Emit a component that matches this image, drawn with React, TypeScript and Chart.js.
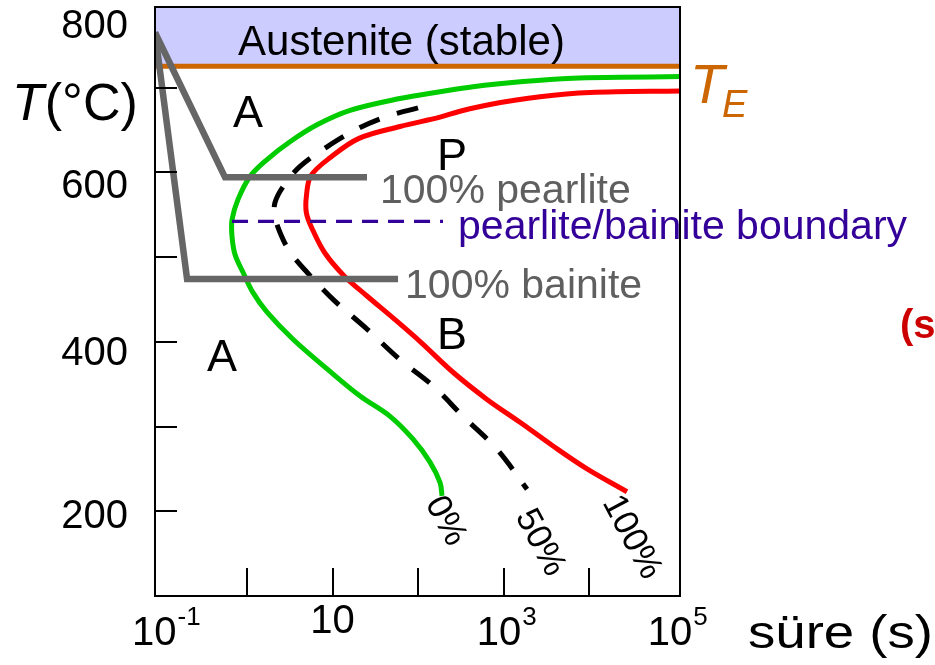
import React, { useEffect, useRef } from "react";
import { Chart, registerables } from "chart.js";

Chart.register(...registerables);

// ---- axis ranges ----
const X_MIN = 0.0839;
const X_MAX = 115900;
const Y_MIN = 100;
const Y_MAX = 795;
const EUTECTOID_TEMP = 725;

// ---- 0% transformation (start) curve ----
const startTimes = [120000, 23070, 6501, 1690, 439.5, 180.7, 61.5, 16.03, 6.59, 3.18, 1.714, 1.084, 0.785, 0.668, 0.668, 0.724, 0.897, 1.175, 1.714, 3.45, 8.63, 20.99, 47.1, 87.5, 138, 180.7, 191];
const startTemps = [713, 712, 711, 707, 701, 695, 687, 673, 656, 636, 615, 595, 568, 544, 524, 503, 482, 458, 435, 403, 368, 336, 312, 285, 258, 234, 218];

// ---- 50% transformation curve ----
const halfTimes = [100, 43.4, 19.4, 8.63, 4.17, 2.64, 2.12, 2.12, 2.43, 3.18, 5.03, 10.14, 25.3, 61.5, 149.7, 336, 839, 1884];
const halfTemps = [676, 666, 651, 630, 607, 583, 564, 548, 529, 506, 482, 450, 415, 379, 348, 312, 273, 226];

// ---- 100% transformation (finish) curve ----
const finishTimes = [120000, 10280, 2673, 695, 309.7, 180.7, 61.5, 20.4, 9.6, 5.6, 4.95, 4.95, 5.8, 8.1, 13.6, 25.3, 52.5, 109, 256.6, 641, 1560, 3793, 9480, 27800];
const finishTemps = [696, 694, 689, 680, 672, 665, 654, 640, 618, 596, 572, 552, 533, 505, 478, 454, 427, 399, 364, 332, 305, 277, 250, 223];

// ---- cooling paths ----
const pearlitePathTimes = [X_MIN, 0.553, 25.3];
const pearlitePathTemps = [765, 594, 594];
const bainitePathTimes = [X_MIN, 0.199, 58.4];
const bainitePathTemps = [765, 474, 474];

// ---- pearlite / bainite boundary ----
const boundaryTimes = [0.668, 196];
const boundaryTemps = [542, 542];

// ---- ticks ----
const yTickValues = [200, 300, 400, 500, 600, 700];
const yLabelValues = [200, 400, 600, 800];
const yLabelNudge = [17, 23, 26, 35];
const xTickValues = [1, 10, 100, 1000, 10000];
const xLabelValues = [0.1, 10, 1000, 100000];
const xLabelExponents = ["-1", "", "3", "5"];

const FONT = "'Liberation Sans', Arial, Helvetica, sans-serif";
const font = (size: number, style = "", weight = "") =>
  [style, weight, `${size}px`, FONT].filter(Boolean).join(" ");

const zip = (xs: number[], ys: number[]) => xs.map((x, i) => ({ x, y: ys[i] }));

const plotNotes = [
  { text: "Austenite (stable)", t: 0.785, T: 738, size: 42, color: "#000000" },
  { text: "A", t: 0.686, T: 653, size: 45, color: "#000000" },
  { text: "A", t: 0.34, T: 365, size: 45, color: "#000000" },
  { text: "P", t: 166.8, T: 603, size: 45, color: "#000000" },
  { text: "B", t: 166.8, T: 391, size: 45, color: "#000000" },
  { text: "100% pearlite", t: 35.9, T: 564, size: 41, color: "#5f5f5f" },
  { text: "pearlite/bainite boundary", t: 293.8, T: 521, size: 41, color: "#330099" },
  { text: "100% bainite", t: 70.5, T: 452, size: 41, color: "#5f5f5f" },
];

const curveTags = [
  { text: "0%", t: 151.8, T: 214.7 },
  { text: "50%", t: 1714, T: 199.4 },
  { text: "100%", t: 17830, T: 215.9 },
];

const overlayPlugin = {
  id: "overlay",
  afterDatasetsDraw(chart: any) {
    const { ctx, chartArea: a, scales } = chart;
    const x = scales.x;
    const y = scales.y;
    ctx.save();

    // frame
    ctx.strokeStyle = "#000000";
    ctx.lineWidth = 2;
    ctx.strokeRect(a.left, a.top, a.right - a.left, a.bottom - a.top);

    // inward ticks
    ctx.beginPath();
    yTickValues.forEach((v) => {
      const py = Math.round(y.getPixelForValue(v));
      ctx.moveTo(a.left, py);
      ctx.lineTo(a.left + 22, py);
    });
    xTickValues.forEach((v) => {
      const px = Math.round(x.getPixelForValue(v));
      ctx.moveTo(px, a.bottom);
      ctx.lineTo(px, a.bottom - 28);
    });
    ctx.stroke();

    // y labels
    ctx.fillStyle = "#000000";
    ctx.font = font(40);
    ctx.textAlign = "right";
    ctx.textBaseline = "alphabetic";
    yLabelValues.forEach((v, i) => {
      ctx.fillText(String(v), a.left - 27, y.getPixelForValue(v) + yLabelNudge[i]);
    });

    // x labels with superscripts
    xLabelValues.forEach((v, i) => {
      const exp = xLabelExponents[i];
      ctx.font = font(40);
      const wb = ctx.measureText("10").width;
      ctx.font = font(26);
      const we = exp ? ctx.measureText(exp).width + 1 : 0;
      const cx = x.getPixelForValue(v);
      const left = cx - wb / 2 - we * 0.3;
      const base = exp ? 645 : 633;
      ctx.textAlign = "left";
      ctx.font = font(40);
      ctx.fillText("10", left, base);
      if (exp) {
        ctx.font = font(26);
        ctx.fillText(exp, left + wb + 1, base - 20);
      }
    });

    // in-plot notes
    ctx.textAlign = "left";
    ctx.textBaseline = "alphabetic";
    plotNotes.forEach((n) => {
      ctx.font = font(n.size);
      ctx.fillStyle = n.color;
      ctx.fillText(n.text, x.getPixelForValue(n.t), y.getPixelForValue(n.T));
    });

    // rotated curve tags
    ctx.fillStyle = "#000000";
    ctx.font = font(35);
    ctx.textBaseline = "middle";
    curveTags.forEach((c) => {
      ctx.save();
      ctx.translate(x.getPixelForValue(c.t), y.getPixelForValue(c.T));
      ctx.rotate((62 * Math.PI) / 180);
      ctx.fillText(c.text, 0, 0);
      ctx.restore();
    });

    // y axis title T(°C)
    ctx.textBaseline = "alphabetic";
    ctx.fillStyle = "#000000";
    ctx.font = font(52, "italic");
    ctx.fillText("T", 12, 120);
    const tw = ctx.measureText("T").width;
    ctx.font = font(52);
    ctx.fillText("(°C)", 12 + tw + 1, 120);

    // T_E label
    const pyE = y.getPixelForValue(EUTECTOID_TEMP);
    ctx.fillStyle = "#cc6600";
    ctx.font = font(56, "italic");
    ctx.fillText("T", a.right + 10, pyE + 37);
    ctx.font = font(38, "italic");
    ctx.fillText("E", a.right + 42, pyE + 51);

    // x axis title
    ctx.fillStyle = "#000000";
    ctx.font = font(47);
    const sw = ctx.measureText("süre (s)").width;
    ctx.save();
    ctx.translate(748, 648);
    ctx.scale(185 / sw, 1);
    ctx.fillText("süre (s)", 0, 0);
    ctx.restore();

    // clipped red note at right edge
    ctx.fillStyle = "#cc0000";
    ctx.font = font(40, "", "bold");
    ctx.fillText("(s)", 900, 338);

    ctx.restore();
  },
};

export default function App() {
  const ref = useRef<HTMLCanvasElement | null>(null);

  useEffect(() => {
    document.body.style.margin = "0";
    if (!ref.current) return;
    const chart = new Chart(ref.current, {
      type: "line",
      data: {
        datasets: [
          {
            label: "Austenite (stable)",
            data: zip([X_MIN, X_MAX], [Y_MAX, Y_MAX]),
            borderWidth: 0,
            borderColor: "rgba(0,0,0,0)",
            backgroundColor: "#ccccff",
            fill: { value: EUTECTOID_TEMP },
            pointRadius: 0,
            tension: 0,
            order: 10,
          },
          {
            label: "T_E",
            data: zip([X_MIN, X_MAX], [EUTECTOID_TEMP, EUTECTOID_TEMP]),
            borderColor: "#cc6600",
            borderWidth: 5,
            pointRadius: 0,
            fill: false,
            tension: 0,
            order: 9,
          },
          {
            label: "0%",
            data: zip(startTimes, startTemps),
            borderColor: "#00cc00",
            borderWidth: 5,
            pointRadius: 0,
            fill: false,
            tension: 0.35,
            order: 6,
          },
          {
            label: "50%",
            data: zip(halfTimes, halfTemps),
            borderColor: "#000000",
            borderWidth: 5,
            borderDash: [22, 18],
            pointRadius: 0,
            fill: false,
            tension: 0.35,
            order: 7,
          },
          {
            label: "100%",
            data: zip(finishTimes, finishTemps),
            borderColor: "#ff0000",
            borderWidth: 5,
            pointRadius: 0,
            fill: false,
            tension: 0.35,
            order: 5,
          },
          {
            label: "100% pearlite path",
            data: zip(pearlitePathTimes, pearlitePathTemps),
            borderColor: "#666666",
            borderWidth: 6.5,
            pointRadius: 0,
            fill: false,
            tension: 0,
            borderJoinStyle: "miter",
            order: 3,
          },
          {
            label: "100% bainite path",
            data: zip(bainitePathTimes, bainitePathTemps),
            borderColor: "#666666",
            borderWidth: 6.5,
            pointRadius: 0,
            fill: false,
            tension: 0,
            borderJoinStyle: "miter",
            order: 2,
          },
          {
            label: "pearlite/bainite boundary",
            data: zip(boundaryTimes, boundaryTemps),
            borderColor: "#330099",
            borderWidth: 3.3,
            borderDash: [16, 10],
            pointRadius: 0,
            fill: false,
            tension: 0,
            order: 1,
          },
        ],
      },
      options: {
        animation: false,
        responsive: false,
        devicePixelRatio: 1,
        layout: { padding: { left: 0, right: 255, top: 7, bottom: 0 } },
        plugins: { legend: { display: false }, tooltip: { enabled: false } },
        scales: {
          x: {
            type: "logarithmic",
            min: X_MIN,
            max: X_MAX,
            grid: { display: false },
            border: { display: false },
            ticks: { display: false },
            afterFit: (s: any) => {
              s.height = 69;
            },
          },
          y: {
            type: "linear",
            min: Y_MIN,
            max: Y_MAX,
            grid: { display: false },
            border: { display: false },
            ticks: { display: false },
            afterFit: (s: any) => {
              s.width = 155;
            },
          },
        },
      } as any,
      plugins: [overlayPlugin],
    });
    return () => chart.destroy();
  }, []);

  return (
    <div style={{ width: 935, height: 665 }}>
      <canvas ref={ref} width={935} height={665} style={{ display: "block" }} />
    </div>
  );
}
